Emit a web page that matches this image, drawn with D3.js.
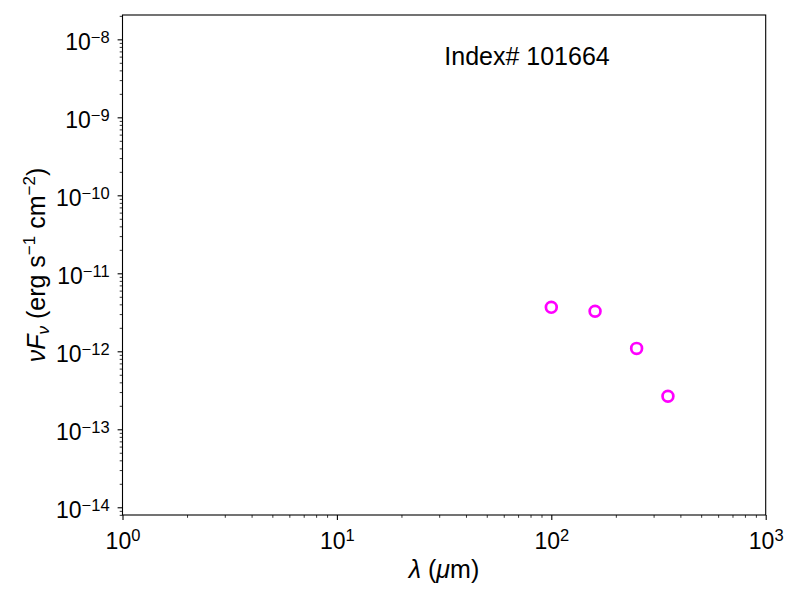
<!DOCTYPE html>
<html>
<head>
<meta charset="utf-8">
<script src="https://cdn.jsdelivr.net/npm/d3@7"></script>
<style>
  html, body { margin: 0; padding: 0; background: #fff; overflow: hidden; }
  svg { display: block; font-family: "Liberation Sans", Arial, Helvetica, sans-serif; }
  .tick line { stroke: #000; }
  .domain { stroke: none; }
</style>
</head>
<body>
<div id="chart"></div>
<script>
// data
const wavelengths = [100, 160, 250, 350];            // micron
const fluxes = [3.66e-12, 3.26e-12, 1.09e-12, 2.65e-13]; // erg s^-1 cm^-2
const xDecades = [1, 10, 100, 1000];
const yDecades = [1e-8, 1e-9, 1e-10, 1e-11, 1e-12, 1e-13, 1e-14];
const indexLabel = "Index# 101664";

const width = 800, height = 600;
const margin = {top: 15, right: 34.3, bottom: 85, left: 122.5};
const innerWidth = width - margin.left - margin.right;
const innerHeight = height - margin.top - margin.bottom;

const svg = d3.select("#chart")
    .append("svg")
    .attr("width", width)
    .attr("height", height);

const inner = svg.append("g")
    .attr("transform", `translate(${margin.left}, ${margin.top})`);

const xScale = d3.scaleLog()
    .domain([1, 1000])
    .range([0, innerWidth]);

const yScale = d3.scaleLog()
    .domain([Math.pow(10, -7.688), Math.pow(10, -14.099)])
    .range([0, innerHeight]);

// minor ticks (no labels)
const xMinor = xScale.ticks().filter(v => !xDecades.includes(v));
const yMinor = yScale.ticks().filter(v => !yDecades.some(d => Math.abs(d - v) / d < 1e-6));

const xMinorG = inner.append("g")
    .attr("transform", `translate(0, ${innerHeight})`)
    .call(d3.axisBottom(xScale).tickValues(xMinor).tickSize(2.8).tickFormat(""));
xMinorG.selectAll("line").attr("stroke-width", 0.8);
xMinorG.selectAll("text").remove();

const yMinorG = inner.append("g")
    .call(d3.axisLeft(yScale).tickValues(yMinor).tickSize(2.8).tickFormat(""));
yMinorG.selectAll("line").attr("stroke-width", 0.8);
yMinorG.selectAll("text").remove();

// major ticks with power-of-ten labels
const supLabel = (sel, exp) => {
    sel.text(null);
    sel.append("tspan").text("10");
    sel.append("tspan")
        .attr("dy", "-0.45em")
        .attr("font-size", "16.5px")
        .text(exp < 0 ? "\u2212" + (-exp) : exp);
};

const xAxisG = inner.append("g")
    .attr("transform", `translate(0, ${innerHeight})`)
    .call(d3.axisBottom(xScale).tickValues(xDecades).tickSize(4.9).tickPadding(7));
xAxisG.selectAll("line").attr("stroke-width", 1.1);
xAxisG.selectAll("text")
    .attr("font-size", "23px")
    .attr("font-family", null)
    .attr("fill", "#000")
    .attr("dy", "0.95em")
    .each(function(d) { supLabel(d3.select(this), Math.round(Math.log10(d))); });

const yAxisG = inner.append("g")
    .call(d3.axisLeft(yScale).tickValues(yDecades).tickSize(4.9).tickPadding(8));
yAxisG.selectAll("line").attr("stroke-width", 1.1);
yAxisG.selectAll("text")
    .attr("font-size", "23px")
    .attr("font-family", null)
    .attr("fill", "#000")
    .attr("dy", "0.45em")
    .each(function(d) { supLabel(d3.select(this), Math.round(Math.log10(d))); });

// frame
inner.append("rect")
    .attr("width", innerWidth)
    .attr("height", innerHeight)
    .attr("fill", "none")
    .attr("stroke", "#000")
    .attr("stroke-width", 1.1);

// data points
inner.selectAll("circle")
    .data(wavelengths)
    .join("circle")
    .attr("cx", d => xScale(d))
    .attr("cy", (d, i) => yScale(fluxes[i]))
    .attr("r", 5.4)
    .attr("fill", "none")
    .attr("stroke", "#ff00ff")
    .attr("stroke-width", 2.7);

// annotation
svg.append("text")
    .attr("x", 527)
    .attr("y", 65)
    .attr("text-anchor", "middle")
    .attr("font-size", "25px")
    .text(indexLabel);

// x axis label
const xl = svg.append("text")
    .attr("x", 444)
    .attr("y", 578)
    .attr("text-anchor", "middle")
    .attr("font-size", "25px");
xl.append("tspan").attr("font-style", "italic").text("\u03bb");
xl.append("tspan").text(" (");
xl.append("tspan").attr("font-style", "italic").text("\u03bc");
xl.append("tspan").text("m)");

// y axis label
const yl = svg.append("text")
    .attr("transform", "translate(45, 265) rotate(-90)")
    .attr("text-anchor", "middle")
    .attr("font-size", "25px");
yl.append("tspan").attr("font-style", "italic").text("\u03bdF");
yl.append("tspan").attr("font-style", "italic").attr("font-size", "17px").attr("dy", "0.25em").text("\u03bd");
yl.append("tspan").attr("dy", "-0.17em").text(" (erg s");
yl.append("tspan").attr("font-size", "17px").attr("dy", "-0.6em").text("\u22121");
yl.append("tspan").attr("dy", "0.4em").text(" cm");
yl.append("tspan").attr("font-size", "17px").attr("dy", "-0.6em").text("\u22122");
yl.append("tspan").attr("dy", "0.4em").text(")");
</script>
</body>
</html>
